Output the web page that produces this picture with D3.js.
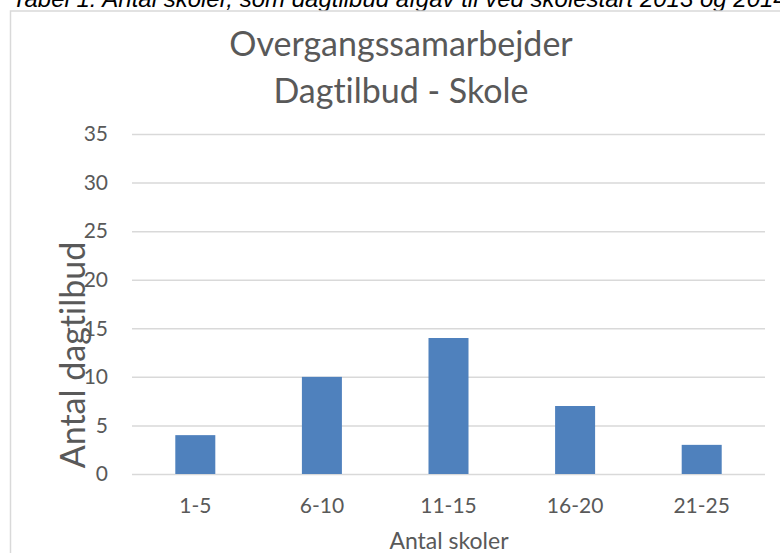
<!DOCTYPE html>
<html>
<head>
<meta charset="utf-8">
<script src="https://cdn.jsdelivr.net/npm/d3@7"></script>
<style>
  body { margin: 0; background: #fff; }
  svg text {
    font-family: Lato, "Open Sans", sans-serif;
    fill: #595959;
    font-variant-ligatures: none;
    font-feature-settings: "liga" 0, "clig" 0;
  }
</style>
</head>
<body>
<div id="chart"></div>
<script>
// data
const categories = ["1-5", "6-10", "11-15", "16-20", "21-25"];
const values = [4, 10, 14, 7, 3];
const yTicks = [0, 5, 10, 15, 20, 25, 30, 35];
const titleLines = ["Overgangssamarbejder", "Dagtilbud - Skole"];
const caption = "Tabel 1: Antal skoler, som dagtilbud afgav til ved skolestart 2013 og 2014";

const W = 780, H = 553;
const PLOT = { LEFT: 132, RIGHT: 765, TOP: 134, BOTTOM: 474 };

const svg = d3.select("#chart")
  .append("svg")
  .attr("width", W)
  .attr("height", H);

// caption above the chart box (top of it is cut off)
svg.append("text")
  .attr("x", 12)
  .attr("y", 7)
  .style("font-family", "'Liberation Sans', Arial, sans-serif")
  .style("font-style", "italic")
  .style("font-size", "24px")
  .style("fill", "#000")
  .text(caption);

// chart frame
svg.append("rect")
  .attr("x", 10.5)
  .attr("y", 11)
  .attr("width", W + 20)
  .attr("height", H + 20)
  .attr("fill", "#fff")
  .attr("stroke", "#d9d9d9")
  .attr("stroke-width", 1.5);

const x = d3.scaleBand()
  .domain(categories)
  .range([PLOT.LEFT, PLOT.RIGHT])
  .paddingInner(0.684)
  .paddingOuter(0.342);

const y = d3.scaleLinear()
  .domain([0, 35])
  .range([PLOT.BOTTOM, PLOT.TOP]);

// y axis + gridlines
const yAxis = d3.axisLeft(y)
  .tickValues(yTicks)
  .tickSize(-(PLOT.RIGHT - PLOT.LEFT))
  .tickPadding(24);
const yg = svg.append("g")
  .attr("transform", "translate(" + PLOT.LEFT + ",0)")
  .call(yAxis);
yg.select(".domain").remove();
yg.selectAll(".tick line").attr("stroke", "#d9d9d9").attr("stroke-width", 1.5);
yg.selectAll(".tick text")
  .style("font-size", "21px")
  .style("fill", "#595959");

// bars
svg.selectAll(".bar")
  .data(values)
  .enter()
  .append("rect")
  .attr("class", "bar")
  .attr("x", (d, i) => x(categories[i]))
  .attr("y", d => y(d))
  .attr("width", x.bandwidth())
  .attr("height", d => y(0) - y(d))
  .attr("fill", "#4f81bd");

// x axis labels
const xAxis = d3.axisBottom(x).tickSize(0);
const xg = svg.append("g")
  .attr("transform", "translate(0," + PLOT.BOTTOM + ")")
  .call(xAxis);
xg.select(".domain").remove();
xg.selectAll(".tick text")
  .attr("y", 39)
  .attr("dy", 0)
  .style("font-size", "21px")
  .style("fill", "#595959");

// title
svg.selectAll(".title")
  .data(titleLines)
  .enter()
  .append("text")
  .attr("class", "title")
  .attr("x", 401)
  .attr("y", (d, i) => 56 + i * 47)
  .attr("text-anchor", "middle")
  .style("font-size", "34px")
  .text(d => d);

// axis titles
svg.append("text")
  .attr("x", 449)
  .attr("y", 549)
  .attr("text-anchor", "middle")
  .style("font-size", "23px")
  .text("Antal skoler");

svg.append("text")
  .attr("transform", "translate(85,355) rotate(-90)")
  .attr("text-anchor", "middle")
  .style("font-size", "34px")
  .text("Antal dagtilbud");
</script>
</body>
</html>
